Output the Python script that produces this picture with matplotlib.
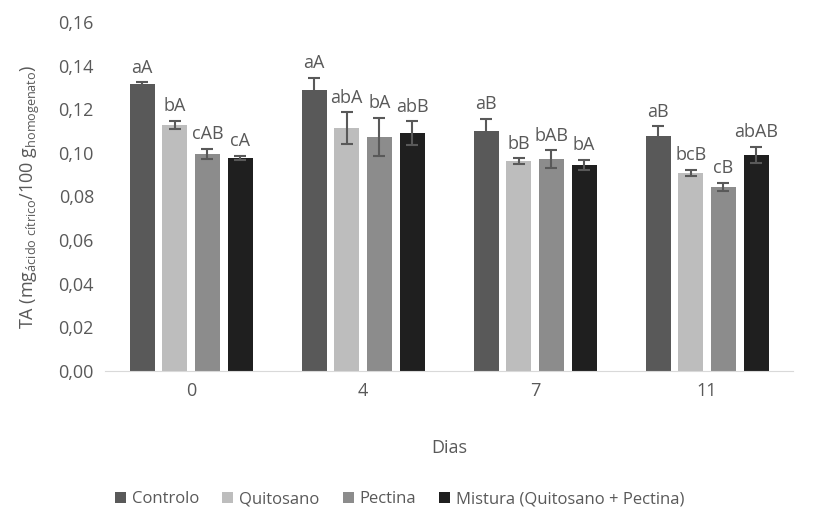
import matplotlib.pyplot as plt
import numpy as np

plt.rcParams['font.family'] = ['Open Sans', 'DejaVu Sans']
plt.rcParams['mathtext.default'] = 'regular'

# dados
dias = ['0', '4', '7', '11']
series = ['Controlo', 'Quitosano', 'Pectina', 'Mistura (Quitosano + Pectina)']
controlo = [0.1316, 0.1288, 0.1100, 0.1077]
quitosano = [0.1128, 0.1114, 0.0963, 0.0908]
pectina = [0.0995, 0.1073, 0.0972, 0.0844]
mistura = [0.0977, 0.1090, 0.0944, 0.0990]
err_controlo = [0.0008, 0.0055, 0.0055, 0.0045]
err_quitosano = [0.0018, 0.0072, 0.0012, 0.0014]
err_pectina = [0.0023, 0.0087, 0.0040, 0.0020]
err_mistura = [0.0010, 0.0055, 0.0023, 0.0037]
lab_controlo = ['aA', 'aA', 'aB', 'aB']
lab_quitosano = ['bA', 'abA', 'bB', 'bcB']
lab_pectina = ['cAB', 'bA', 'bAB', 'cB']
lab_mistura = ['cA', 'abB', 'bA', 'abAB']

valores = [controlo, quitosano, pectina, mistura]
erros = [err_controlo, err_quitosano, err_pectina, err_mistura]
letras = [lab_controlo, lab_quitosano, lab_pectina, lab_mistura]
cores = ['#595959', '#bdbdbd', '#8c8c8c', '#1f1f1f']
txt = '#595959'

fig = plt.figure(figsize=(8.21, 5.09), dpi=100)
ax = fig.add_axes([0.128, 0.271, 0.838, 0.686])

x = np.arange(len(dias))
w = 0.146
passo = 0.19
for i in range(4):
    xs = x + (i - 1.5) * passo
    ax.bar(xs, valores[i], w, color=cores[i], label=series[i], zorder=2)
    ax.errorbar(xs, valores[i], yerr=erros[i], fmt='none', ecolor='#595959',
                elinewidth=1.5, capsize=4, capthick=1.5, zorder=3)
    for xx, v, e, l in zip(xs, valores[i], erros[i], letras[i]):
        ax.annotate(l, (xx, v + e), xytext=(0, 4), textcoords='offset points',
                    ha='center', va='bottom', fontsize=13, color=txt)

ax.set_ylim(0, 0.16)
ax.set_xlim(-0.5, 3.5)
ax.set_yticks(np.arange(0, 0.161, 0.02))
ax.set_yticklabels([f'{t:.2f}'.replace('.', ',') for t in np.arange(0, 0.161, 0.02)])
ax.set_xticks(x)
ax.set_xticklabels(dias)
ax.tick_params(axis='both', length=0, labelsize=13, colors=txt, pad=8)
for s in ['top', 'right', 'left']:
    ax.spines[s].set_visible(False)
ax.spines['bottom'].set_color('#d9d9d9')

ax.set_xlabel('Dias', fontsize=13, color=txt, labelpad=28)
ax.set_ylabel('TA (mg$_{ácido\\ cítrico}$/100 g$_{homogenato}$)', fontsize=13,
              color=txt, labelpad=12)

fig.legend(loc='lower center', bbox_to_anchor=(0.487, -0.026), ncol=4, frameon=False,
           fontsize=12, labelcolor=txt, handlelength=0.65, handleheight=0.65,
           handletextpad=0.35, columnspacing=1.4)

fig.savefig('out.png', dpi=100)
